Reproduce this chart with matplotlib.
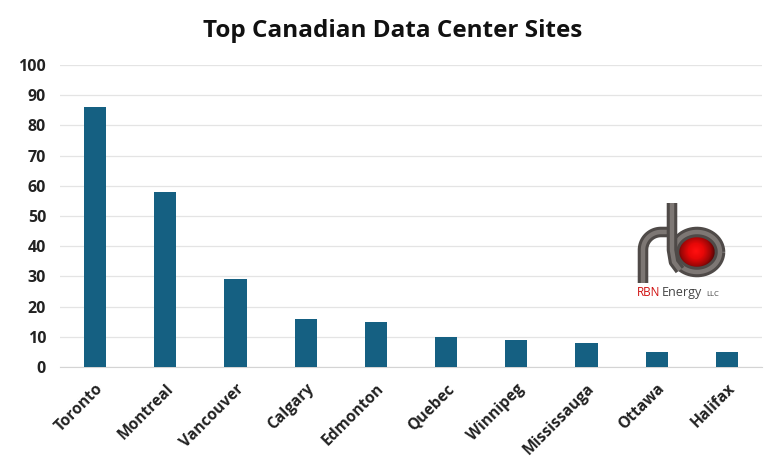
import matplotlib
matplotlib.use("Agg")
import matplotlib.pyplot as plt
import numpy as np
from matplotlib.patches import Circle
from matplotlib.colors import LinearSegmentedColormap

cities = ["Toronto", "Montreal", "Vancouver", "Calgary", "Edmonton", "Quebec", "Winnipeg", "Mississauga", "Ottawa", "Halifax"]
sites = [86, 58, 29, 16, 15, 10, 9, 8, 5, 5]
yticks = list(range(0, 101, 10))

plt.rcParams['font.family'] = ['Open Sans', 'DejaVu Sans']
fig = plt.figure(figsize=(7.8, 4.7), dpi=100)
ax = fig.add_axes([60/780, 1-367/470, (762-60)/780, (367-65)/470])
ax.bar(range(len(cities)), sites, width=0.315, color="#156082", zorder=3)
ax.set_xlim(-0.5, 9.5)
ax.set_ylim(0, 100)
ax.set_yticks(yticks)
ax.set_xticks(range(len(cities)))
ax.set_xticklabels(cities, rotation=45, ha="right", rotation_mode="anchor", fontsize=11.2, fontweight="bold", color="#222222")
ax.tick_params(axis='y', length=0, labelsize=11.5, pad=10, labelcolor="#222222")
ax.tick_params(axis='x', length=0, pad=10)
for l in ax.get_yticklabels():
    l.set_fontweight("bold")
ax.grid(axis='y', color="#e4e4e4", lw=0.9, zorder=0)
for s in ["top", "right", "left"]:
    ax.spines[s].set_visible(False)
ax.spines["bottom"].set_color("#d4d4d4")
fig.text(393/780, 1-31/470, "Top Canadian Data Center Sites", ha="center", va="center", fontsize=17.5, fontweight="bold", color="#111111")

# logo
lg = fig.add_axes([620/780, 1-310/470, 120/780, 120/470])
lg.set_xlim(620, 740); lg.set_ylim(310, 190); lg.axis("off")

ball = LinearSegmentedColormap.from_list("b", ["#300303", "#a00606", "#e80808", "#ff1010"])
for r, c in zip(np.linspace(22, 1, 22), ball(np.linspace(0, 1, 22))):
    lg.add_patch(Circle((696, 251), r, color=c, lw=0, zorder=2))

t = np.linspace(0, 2*np.pi, 200)
ring_x, ring_y = 697 + 23*np.cos(t), 252 + 20*np.sin(t)
t2 = np.linspace(np.pi, 1.5*np.pi, 60)
arch_x = np.r_[643, 661 + 18*np.cos(t2), 672]
arch_y = np.r_[283, 250 + 18*np.sin(t2), 232]
for w, c in [(7.6, "#4f4a48"), (3.2, "#7d7774")]:
    lg.plot(ring_x, ring_y, color=c, lw=w, zorder=4, solid_capstyle="butt")
    lg.plot(arch_x, arch_y, color=c, lw=w, zorder=5, solid_capstyle="butt")
    lg.plot([672, 672, 674, 680], [203, 250, 262, 270], color=c, lw=w, zorder=6, solid_capstyle="butt")
lg.text(637, 293, "RBN", color="#d01010", fontsize=8.5, va="center")
lg.text(662, 293, "Energy", color="#444444", fontsize=9, va="center")
lg.text(706, 295, "LLC", color="#444444", fontsize=5.5, va="center")
fig.savefig("out.png", dpi=100)
